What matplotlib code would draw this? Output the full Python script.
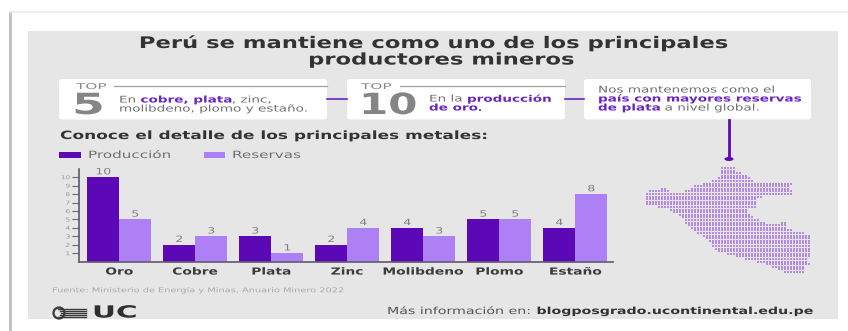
import matplotlib
matplotlib.use('Agg')
import matplotlib.pyplot as plt
import numpy as np
from matplotlib.patches import FancyBboxPatch, Rectangle, Circle, Ellipse
from matplotlib.path import Path
from matplotlib.patheffects import AbstractPathEffect
from matplotlib.transforms import Affine2D

W, H = 848, 331

categories = ['Oro', 'Cobre', 'Plata', 'Zinc', 'Molibdeno', 'Plomo', 'Estaño']
produccion = [10, 2, 3, 2, 4, 5, 4]
reservas = [5, 3, 1, 4, 3, 5, 8]
y_ticks = [1, 2, 3, 4, 5, 6, 7, 8, 9, 10]

# outline of Peru, filled with a grid of small dots
peru_x = [722, 735, 736, 747, 755, 770, 790, 792, 789, 792, 792, 767, 755, 755, 747,
          753, 763, 775, 787, 788, 800, 810, 811, 807, 810, 803, 803, 787, 763, 747,
          715, 708, 688, 682, 670, 647, 647, 667, 670, 683, 697, 710, 722]
peru_y = [167, 167, 172, 175, 182, 182, 182, 185, 187, 191, 195, 196, 198, 207, 210,
          217, 222, 224, 221, 230, 231, 235, 257, 260, 265, 268, 274, 273, 263, 260,
          250, 240, 227, 218, 210, 205, 192, 187, 193, 193, 185, 182, 175]

PURPLE = '#5d08b6'
LILAC = '#ad80f5'
BOLD_PURPLE = '#6a24c2'
GREY = '#707070'
DARK = '#333333'
CARD_SIZE = 6.6
CARD_SX = 1.48


class StretchX(AbstractPathEffect):
    # widens text horizontally around a fixed x position (in pixels)
    def __init__(self, sx, x0):
        super().__init__()
        self.sx = sx
        self.x0 = x0

    def draw_path(self, renderer, gc, tpath, affine, rgbFace=None):
        wide = affine + Affine2D().translate(-self.x0, 0).scale(self.sx, 1).translate(self.x0, 0)
        renderer.draw_path(gc, tpath, wide, rgbFace)


fig = plt.figure(figsize=(W / 100, H / 100), dpi=100, facecolor='white')
bg = fig.add_axes([0, 0, 1, 1])
bg.set_xlim(0, W)
bg.set_ylim(H, 0)
bg.axis('off')
renderer = fig.canvas.get_renderer()


def label(x, y, txt, size, sx, color=DARK, weight='normal', ha='left'):
    t = bg.text(x, y, txt, fontsize=size, fontweight=weight, color=color,
                va='center', ha=ha, zorder=5)
    t.set_path_effects([StretchX(sx, x)])
    return t


def runs(x, y, parts, size=CARD_SIZE, sx=CARD_SX):
    # write pieces of different weight and colour one after the other
    for txt, weight, color in parts:
        t = label(x, y, txt, size, sx, color, weight)
        x += t.get_window_extent(renderer).width * sx


def card(x0, x1, y0=79, y1=119.5):
    bg.add_patch(FancyBboxPatch((x0 + 3, y0 + 3), x1 - x0 - 6, y1 - y0 - 6,
                                boxstyle='round,pad=3,rounding_size=3',
                                fc='white', ec='none', zorder=2))


# page frame and grey panel
bg.plot([10, 10], [12, H], color='#c4c4c4', lw=2.2, zorder=1)
bg.plot([10, W], [12, 12], color='#ececec', lw=1.2, zorder=1)
bg.add_patch(Rectangle((28, 31), 810, 288, fc='#e6e6e6', ec='none', zorder=1))

label(435, 43, 'Perú se mantiene como uno de los principales', 11.5, 1.42, DARK, 'bold', 'center')
label(442, 60, 'productores mineros', 11.5, 1.42, DARK, 'bold', 'center')

# top cards and their connectors
card(59, 327)
card(347, 565)
card(584, 811)
bg.plot([327, 347], [99, 99], color=BOLD_PURPLE, lw=1.2, zorder=2)
bg.plot([565, 584], [99, 99], color=BOLD_PURPLE, lw=1.2, zorder=2)
bg.plot([729, 729], [120, 158], color=PURPLE, lw=2, zorder=2)
bg.add_patch(Ellipse((729, 159), 9, 4, fc=PURPLE, ec='none', zorder=2))

label(76, 86.5, 'TOP', 5.8, 1.9, '#888888')
bg.plot([114, 327], [85.5, 85.5], color='#a0a0a0', lw=0.9, zorder=3)
label(72, 106, '5', 21, 1.62, '#858585', 'bold')
runs(119, 100, [('En ', 'normal', GREY), ('cobre, plata', 'bold', BOLD_PURPLE),
                (', zinc,', 'normal', GREY)])
runs(119, 109, [('molibdeno, plomo y estaño.', 'normal', GREY)])

label(361, 86.5, 'TOP', 5.8, 1.9, '#888888')
bg.plot([400, 565], [85.5, 85.5], color='#a0a0a0', lw=0.9, zorder=3)
label(359, 106, '10', 21, 1.44, '#858585', 'bold')
runs(429, 99, [('En la ', 'normal', GREY), ('producción', 'bold', BOLD_PURPLE)])
runs(429, 108, [('de oro', 'bold', BOLD_PURPLE), ('.', 'normal', GREY)])

runs(598, 90, [('Nos mantenemos como el', 'normal', GREY)])
runs(598, 99, [('país con mayores reservas', 'bold', BOLD_PURPLE)])
runs(598, 108, [('de plata', 'bold', BOLD_PURPLE), (' a nivel global.', 'normal', GREY)])

label(60, 136, 'Conoce el detalle de los principales metales:', 8.2, 1.49, DARK, 'bold')

# legend
bg.add_patch(Rectangle((59, 152), 22, 5.5, fc=PURPLE, ec='none'))
label(88, 155, 'Producción', 7.2, 1.52, GREY)
bg.add_patch(Rectangle((204, 152), 21, 5.5, fc=LILAC, ec='none'))
label(232, 155, 'Reservas', 7.2, 1.52, GREY)

# bars
ax = fig.add_axes([78.5 / W, 1 - 261.7 / H, (612.7 - 78.5) / W, (261.7 - 169) / H])
ax.patch.set_alpha(0)
x = np.arange(len(categories))
bw = 32 / 76
ax.bar(x - bw / 2, produccion, bw, color=PURPLE)
ax.bar(x + bw / 2, reservas, bw, color=LILAC)
ax.set_xlim(-0.537, 6.492)
ax.set_ylim(0, 92.7 / 8.45)

for i in x:
    for pos, val in [(i - bw / 2, produccion[i]), (i + bw / 2, reservas[i])]:
        t = ax.text(pos, val + 0.1, str(val), ha='center', va='bottom',
                    fontsize=6.2, color='#808080')
        t.set_path_effects([StretchX(1.45, ax.transData.transform((pos, 0))[0])])

ax.set_xticks(x)
ax.set_xticklabels(categories, fontsize=7, fontweight='bold', color='#3a3a3a')
ax.tick_params(axis='x', length=0, pad=3.5)
for i, tick in zip(x, ax.get_xticklabels()):
    tick.set_path_effects([StretchX(1.42, ax.transData.transform((i, 0))[0])])

ax.set_yticks(y_ticks)
ax.tick_params(axis='y', length=5, width=0.8, color='#6a6478', labelsize=3.8,
               labelcolor='#999999', pad=1)
for tick in ax.get_yticklabels():
    tick.set_path_effects([StretchX(1.4, 70)])

for s in ['top', 'right']:
    ax.spines[s].set_visible(False)
for s in ['left', 'bottom']:
    ax.spines[s].set_color('#5f5a70')
    ax.spines[s].set_linewidth(1.2)

# dotted map
outline = Path(np.column_stack([peru_x, peru_y]))
gx, gy = np.meshgrid(np.arange(647, 812, 3.0), np.arange(168, 275, 2.6))
pts = np.column_stack([gx.ravel(), gy.ravel()])
inside = pts[outline.contains_points(pts)]
for px, py in inside:
    bg.add_patch(Rectangle((px - 1.2, py - 1.0), 2.4, 2.0, fc='#b68ce3', ec='none', zorder=2))

# footer
label(52, 290, 'Fuente: Ministerio de Energía y Minas, Anuario Minero 2022', 4.7, 1.5, '#aaaaaa')
for k, yy in enumerate(np.arange(308.5, 318.5, 2)):
    bg.plot([61 - abs(k - 2) * 1.5, 86], [yy, yy], color='#3a3a3a', lw=1.0, zorder=3)
bg.add_patch(Circle((59, 313), 5.5, fc='none', ec='#3a3a3a', lw=1.6, zorder=3))
label(92, 312.5, 'UC', 12, 1.77, '#2f2f2f', 'bold')
runs(387, 311, [('Más información en: ', 'normal', '#555555'),
                ('blogposgrado.ucontinental.edu.pe', 'bold', DARK)], 7, 1.46)

fig.savefig('out.png', dpi=100, facecolor='white')
